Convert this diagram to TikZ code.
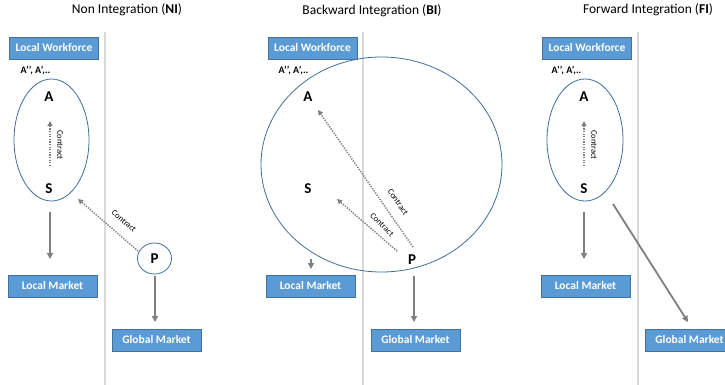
\documentclass[tikz,border=0pt]{standalone}
\usepackage{fontspec}
\setmainfont{Carlito}
\usetikzlibrary{arrows.meta,shapes.geometric}
\definecolor{boxfill}{HTML}{5B9BD5}
\definecolor{boxline}{HTML}{41719C}
\definecolor{ringline}{HTML}{3E6E9E}
\definecolor{flowgray}{HTML}{7F7F7F}
\definecolor{divider}{HTML}{D9D9D9}

\begin{document}
\begin{tikzpicture}[x=1pt,y=-1pt,
  bluebox/.style={draw=boxline, line width=0.8pt, fill=boxfill, text=white,
    font=\bfseries\fontsize{11.5}{13}\selectfont, minimum width=89pt,
    minimum height=22pt, inner sep=0pt},
  ring/.style={draw=ringline, line width=0.8pt, ellipse, inner sep=0pt},
  agent/.style={font=\bfseries\fontsize{15}{17}\selectfont, inner sep=0pt},
  pool/.style={font=\bfseries\fontsize{10}{11}\selectfont, inner sep=0pt},
  heading/.style={font=\fontsize{13.5}{15}\selectfont, inner sep=0pt},
  deal/.style={draw=flowgray, line width=1.5pt, dash pattern=on 1.3pt off 1.3pt,
    -{Triangle[width=5pt,length=5pt]}},
  dealtag/.style={font=\fontsize{8.5}{9}\selectfont, inner sep=0pt},
  flow/.style={draw=flowgray, line width=1.8pt, -{Triangle[width=6pt,length=6pt]}},
  split/.style={draw=divider, line width=1.2pt}]
\useasboundingbox (0,0) rectangle (725,385);

% ---------- headings ----------
\node[heading] (t-ni) at (127,10) {Non Integration (\textbf{NI})};
\node[heading] (t-bi) at (372,11) {Backward Integration (\textbf{BI})};
\node[heading] (t-fi) at (648,10) {Forward Integration (\textbf{FI})};

% ---------- local / global dividers ----------
\coordinate (d1a) at (105,32); \coordinate (d1b) at (105,385);
\coordinate (d2a) at (363,32); \coordinate (d2b) at (363,385);
\coordinate (d3a) at (638,32); \coordinate (d3b) at (638,385);
\draw[split] (d1a) -- (d1b);
\draw[split] (d2a) -- (d2b);
\draw[split] (d3a) -- (d3b);

% ================= Non Integration =================
\node[bluebox] (ni-lw) at (54,48) {Local Workforce};
\node[bluebox] (ni-lm) at (52.5,286) {Local Market};
\node[bluebox] (ni-gm) at (156.5,340) {Global Market};
\node[pool] (ni-pool) at (35.5,71) {A’’, A’,..};
\node[ring, minimum width=75pt, minimum height=122pt] (ni-firm) at (51.5,140) {};
\node[agent] (ni-A) at (49,97) {A};
\node[agent] (ni-S) at (49,189) {S};
\node[ring, minimum width=34pt, minimum height=31pt, font=\bfseries\fontsize{15}{17}\selectfont] (ni-P) at (154.5,258.5) {P};

\coordinate (ni-c1) at (50,166); \coordinate (ni-c2) at (50,121);
\draw[deal] (ni-c1) -- (ni-c2);
\node[dealtag, rotate=-90] (ni-ct1) at (60,145) {Contract};

\coordinate (ni-c3) at (138,251); \coordinate (ni-c4) at (78,199);
\draw[deal] (ni-c3) -- (ni-c4);
\node[dealtag, rotate=-41] (ni-ct2) at (124,221) {Contract};

\coordinate (ni-f1) at (50,212); \coordinate (ni-f2) at (50,259);
\draw[flow] (ni-f1) -- (ni-f2);
\coordinate (ni-f3) at (155,276); \coordinate (ni-f4) at (155,322);
\draw[flow] (ni-f3) -- (ni-f4);

% ================= Backward Integration =================
\node[bluebox] (bi-lw) at (312.5,48) {Local Workforce};
\node[bluebox] (bi-lm) at (310.5,286) {Local Market};
\node[bluebox] (bi-gm) at (415.5,340) {Global Market};
\node[pool] (bi-pool) at (293.5,71) {A’’, A’,..};
\node[ring, minimum width=241pt, minimum height=215pt] (bi-firm) at (381.5,164.5) {};
\node[agent] (bi-A) at (308,97) {A};
\node[agent] (bi-S) at (308,189) {S};
\node[agent] (bi-P) at (412,260) {P};

\coordinate (bi-c1) at (413,247); \coordinate (bi-c2) at (318,110);
\draw[deal] (bi-c1) -- (bi-c2);
\node[dealtag, rotate=-55] (bi-ct1) at (398,202) {Contract};

\coordinate (bi-c3) at (397,251); \coordinate (bi-c4) at (337,199);
\draw[deal] (bi-c3) -- (bi-c4);
\node[dealtag, rotate=-45] (bi-ct2) at (382,225) {Contract};

\coordinate (bi-f1) at (311,259); \coordinate (bi-f2) at (311,269);
\draw[flow] (bi-f1) -- (bi-f2);
\coordinate (bi-f3) at (414,276); \coordinate (bi-f4) at (414,322);
\draw[flow] (bi-f3) -- (bi-f4);

% ================= Forward Integration =================
\node[bluebox] (fi-lw) at (587,48) {Local Workforce};
\node[bluebox] (fi-lm) at (585.5,286) {Local Market};
\node[bluebox] (fi-gm) at (689.5,340) {Global Market};
\node[pool] (fi-pool) at (566.5,71) {A’’, A’,..};
\node[ring, minimum width=76pt, minimum height=122pt] (fi-firm) at (585,140) {};
\node[agent] (fi-A) at (584,97) {A};
\node[agent] (fi-S) at (584,189) {S};

\coordinate (fi-c1) at (584,166); \coordinate (fi-c2) at (584,121);
\draw[deal] (fi-c1) -- (fi-c2);
\node[dealtag, rotate=-90] (fi-ct1) at (594,145) {Contract};

\coordinate (fi-f1) at (584,212); \coordinate (fi-f2) at (584,259);
\draw[flow] (fi-f1) -- (fi-f2);
\coordinate (fi-f3) at (613,204); \coordinate (fi-f4) at (688,322);
\draw[flow] (fi-f3) -- (fi-f4);
\end{tikzpicture}
\end{document}
